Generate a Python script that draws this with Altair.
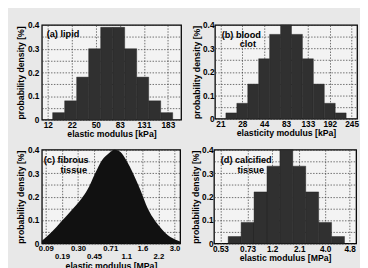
import altair as alt
import pandas as pd

# ---------------- data ----------------
# (a) lipid : bar heights per bin, tick labels at bin-unit positions
a_heights = [0.03, 0.08, 0.18, 0.30, 0.39, 0.39, 0.30, 0.18, 0.08, 0.03]
a_tick_pos = [-0.4, 1.6, 3.6, 5.6, 7.6, 9.6]
a_tick_labels = ["12", "22", "50", "83", "131", "183"]

# (b) blood clot
b_heights = [0.025, 0.066, 0.148, 0.256, 0.36, 0.40, 0.36, 0.256, 0.148, 0.066, 0.025]
b_tick_pos = [-0.5, 1.5, 3.5, 5.5, 7.5, 9.5, 11.5]
b_tick_labels = ["21", "28", "44", "83", "133", "192", "245"]

# (c) fibrous tissue : smooth density curve (x in tick units)
c_x = [-0.25, 0.06, 0.66, 0.96, 1.57, 2.41, 2.59, 3.07, 3.49, 3.92, 4.28,
       4.64, 5.0, 5.42, 5.9, 6.33, 6.81, 7.2, 7.59, 8.19, 8.35]
c_y = [0.012, 0.03, 0.07, 0.094, 0.14, 0.21, 0.23, 0.30, 0.355, 0.385, 0.40,
       0.39, 0.355, 0.30, 0.225, 0.15, 0.095, 0.062, 0.035, 0.013, 0.009]
c_tick_pos = [0, 1, 2, 3, 4, 5, 6, 7, 8]
c_tick_labels = ["0.09", "0.19", "0.30", "0.45", "0.71", "1.1", "1.6", "2.2", "3.0"]

# (d) calcified tissue
d_heights = [0.03, 0.09, 0.22, 0.33, 0.40, 0.33, 0.22, 0.09, 0.03]
d_tick_pos = [-0.6, 1.5, 3.4, 5.5, 7.5, 9.4]
d_tick_labels = ["0.53", "0.73", "1.2", "2.1", "4.0", "4.8"]

y_grid = [round(i * 0.05, 2) for i in range(9)]

FONT = "Liberation Sans"
BAR = "#303030"

ylabel_expr = ("datum.value == 0 ? '0' : (round(datum.value*20) % 2 == 0 ? "
               "format(datum.value, '.1f') : '')")


def js_list(vals):
    return "[" + ",".join(repr(v) if isinstance(v, str) else str(v) for v in vals) + "]"


def yaxis(lab_pad, title_pad):
    return alt.Axis(values=y_grid, labelExpr=ylabel_expr, title="probability density [%]",
                    ticks=False, domain=False, grid=True, labelPadding=lab_pad,
                    titlePadding=title_pad)


def xaxis(pos, labels, title, two_rows=False):
    lab = js_list(labels)
    if two_rows:
        expr = (f"datum.value % 2 == 0 ? {lab}[datum.value] : ['', {lab}[datum.value]]")
        return alt.Axis(values=pos, labelExpr=expr, title=title, ticks=False, domain=False,
                        grid=True, labelPadding=1, titlePadding=1, labelLineHeight=8.5,
                        labelFontSize=8, labelOverlap=False)
    expr = f"{lab}[indexof({js_list(pos)}, datum.value)]"
    return alt.Axis(values=pos, labelExpr=expr, title=title, ticks=False, domain=False,
                    grid=True, labelPadding=1, titlePadding=1, labelOverlap=False)


def labels_layer(items):
    layers = []
    for txt, px, py, align in items:
        layers.append(
            alt.Chart(pd.DataFrame({"t": [txt]})).mark_text(
                font=FONT, fontWeight="bold", fontSize=9.5, align=align,
                baseline="middle", color="black").encode(
                x=alt.value(px), y=alt.value(py), text="t:N")
        )
    return layers


def bar_panel(heights, pos, labels, domain, title, w, h, lpad, tpad, texts):
    df = pd.DataFrame({"x0": list(range(len(heights))),
                       "x1": [i + 1 for i in range(len(heights))],
                       "h": heights,
                       "base": [0.0] * len(heights)})
    bars = alt.Chart(df).mark_rect(color=BAR, stroke="#1a1a1a", strokeWidth=0.4).encode(
        x=alt.X("x0:Q", scale=alt.Scale(domain=domain, nice=False, zero=False),
                axis=xaxis(pos, labels, title)),
        x2="x1:Q",
        y=alt.Y("h:Q", scale=alt.Scale(domain=[0, 0.4], nice=False),
                axis=yaxis(lpad, tpad)),
        y2="base:Q",
    )
    return alt.layer(bars, *labels_layer(texts)).properties(width=w, height=h)


pa = bar_panel(a_heights, a_tick_pos, a_tick_labels, [-0.9, 10.7],
               "elastic modulus [kPa]", 144, 98, 3, 2,
               [("(a) lipid", 5, 9, "left")])
pb = bar_panel(b_heights, b_tick_pos, b_tick_labels, [-1.0, 12.0],
               "elasticity modulus [kPa]", 147, 97, 1, 1,
               [("(b) blood", 7, 10, "left"), ("clot", 34, 20, "center")])

cdf = pd.DataFrame({"x": c_x, "y": c_y})
carea = alt.Chart(cdf).mark_area(color="#111111", interpolate="monotone").encode(
    x=alt.X("x:Q", scale=alt.Scale(domain=[-0.25, 8.35], nice=False, zero=False),
            axis=xaxis(c_tick_pos, c_tick_labels, "elastic modulus [MPa]", two_rows=True)),
    y=alt.Y("y:Q", scale=alt.Scale(domain=[0, 0.4], nice=False), axis=yaxis(3, 2)),
)
pc = alt.layer(carea, *labels_layer([("(c) fibrous", 2, 11, "left"),
                                     ("tissue", 33, 21, "center")])).properties(width=143, height=97)

pd_ = bar_panel(d_heights, d_tick_pos, d_tick_labels, [-1.1, 9.9],
                "elastic modulus [MPa]", 147, 97, 1, 1,
                [("(d) calcified", 7, 11, "left"), ("tissue", 38, 21, "center")])

chart = alt.vconcat(
    alt.hconcat(pa, pb, spacing=10),
    alt.hconcat(pc, pd_, spacing=10),
    spacing=5,
).properties(
    background="#e8e8e8",
    padding={"left": 8, "top": 8, "right": 0, "bottom": 0},
).configure_view(
    stroke="black", strokeWidth=1.3, fill="#f3f3f3"
).configure_axis(
    labelFont=FONT, labelFontWeight="bold", labelFontSize=8.5, labelColor="black",
    titleFont=FONT, titleFontWeight="bold", titleFontSize=9, titleColor="black",
    gridColor="#333333", gridDash=[1.5, 1.5], gridWidth=0.7, gridOpacity=1,
)

chart.save("out.html", embed_options={"renderer": "svg", "actions": False})
